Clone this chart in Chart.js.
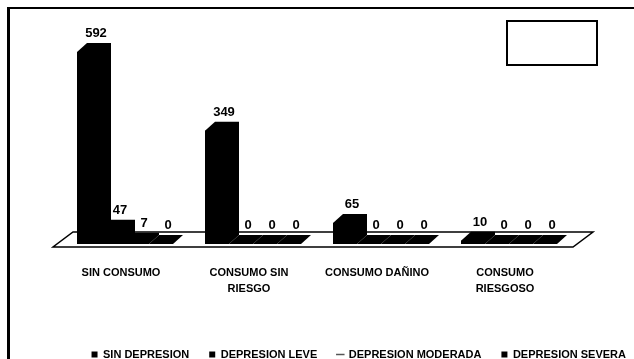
<!DOCTYPE html>
<html>
<head>
<meta charset="utf-8">
<script src="https://cdn.jsdelivr.net/npm/chart.js@4.4.1/dist/chart.umd.min.js"></script>
<style>
  html, body { margin: 0; padding: 0; background: #fff; }
  #wrap { position: relative; width: 634px; height: 359px; overflow: hidden; }
  #frame { position: absolute; left: 7px; top: 7px; width: 700px; height: 400px;
           border-left: 3px solid #000; border-top: 2px solid #000; }
  #emptyBox { position: absolute; left: 506px; top: 20px; width: 88px; height: 42px; border: 2px solid #000; }
  #chartBox { position: absolute; left: 0; top: 0; width: 634px; height: 359px; }
</style>
</head>
<body>
<div id="wrap">
  <div id="frame"></div>
  <div id="chartBox"><canvas id="consumoChart"></canvas></div>
  <div id="emptyBox"></div>
</div>
<script>
  const categories = [['SIN CONSUMO'], ['CONSUMO SIN', 'RIESGO'], ['CONSUMO DAÑINO'], ['CONSUMO', 'RIESGOSO']];
  const seriesNames = ['SIN DEPRESION', 'DEPRESION LEVE', 'DEPRESION MODERADA', 'DEPRESION SEVERA'];
  const sinDepresion = [592, 349, 65, 10];
  const depresionLeve = [47, 0, 0, 0];
  const depresionModerada = [7, 0, 0, 0];
  const depresionSevera = [0, 0, 0, 0];

  const DEPTH_X = 10;
  const DEPTH_Y = 9;
  const FONT = '"Liberation Sans", Arial, sans-serif';

  // floor plane under the bars + fake 3d faces and the value labels
  const columns3d = {
    id: 'columns3d',
    beforeDatasetsDraw(chart) {
      const { ctx, chartArea } = chart;
      const base = chart.scales.y.getPixelForValue(0);
      ctx.save();
      ctx.beginPath();
      ctx.moveTo(chartArea.left - 8, base + 3);
      ctx.lineTo(chartArea.right, base + 3);
      ctx.lineTo(chartArea.right + 20, base - 12);
      ctx.lineTo(chartArea.left + 12, base - 12);
      ctx.closePath();
      ctx.fillStyle = '#fff';
      ctx.fill();
      ctx.lineWidth = 1.5;
      ctx.strokeStyle = '#000';
      ctx.stroke();
      ctx.restore();
    },
    afterDatasetsDraw(chart) {
      const ctx = chart.ctx;
      const bars = [];
      chart.data.datasets.forEach((ds, i) => {
        chart.getDatasetMeta(i).data.forEach((bar, j) => {
          const p = bar.getProps(['x', 'y', 'base', 'width'], true);
          bars.push({ ...p, value: ds.data[j] });
        });
      });

      ctx.save();
      ctx.fillStyle = '#000';
      bars.forEach(b => {
        const l = b.x - b.width / 2;
        const r = b.x + b.width / 2;
        ctx.beginPath();
        ctx.moveTo(l, b.base);
        ctx.lineTo(l, b.y);
        ctx.lineTo(l + DEPTH_X, b.y - DEPTH_Y);
        ctx.lineTo(r + DEPTH_X, b.y - DEPTH_Y);
        ctx.lineTo(r + DEPTH_X, b.base - DEPTH_Y);
        ctx.lineTo(r, b.base);
        ctx.closePath();
        ctx.fill();
      });

      ctx.font = 'bold 13px ' + FONT;
      ctx.textAlign = 'center';
      ctx.textBaseline = 'bottom';
      bars.forEach(b => {
        ctx.fillText(String(b.value), b.x + DEPTH_X / 2 + 2, b.y - DEPTH_Y - 3);
      });
      ctx.restore();
    }
  };

  const legendMarks = ['rect', 'rect', 'line', 'rect'];

  const datasets = [sinDepresion, depresionLeve, depresionModerada, depresionSevera].map((data, i) => ({
    label: seriesNames[i],
    data: data,
    backgroundColor: '#000',
    borderWidth: 0,
    pointStyle: legendMarks[i],
    categoryPercentage: 0.75,
    barPercentage: 1.0
  }));

  Chart.defaults.color = '#000';
  Chart.defaults.font.family = FONT;

  new Chart(document.getElementById('consumoChart'), {
    type: 'bar',
    data: { labels: categories, datasets: datasets },
    options: {
      responsive: true,
      maintainAspectRatio: false,
      animation: false,
      layout: { padding: { top: 17, bottom: -11, left: 0, right: -12 } },
      scales: {
        x: {
          grid: { display: false, drawTicks: false },
          border: { display: false },
          ticks: {
            font: { size: 11, weight: 'bold', lineHeight: 1.45 },
            padding: 21,
            labelOffset: -4,
            maxRotation: 0,
            autoSkip: false
          },
          afterFit: s => { s.height = 85; }
        },
        y: {
          min: 0,
          max: 700,
          grid: { display: false, drawTicks: false },
          border: { display: false },
          ticks: { display: false },
          afterFit: s => { s.width = 61; }
        },
        yRight: {
          position: 'right',
          min: 0,
          max: 700,
          grid: { display: false, drawTicks: false },
          border: { display: false },
          ticks: { display: false },
          afterFit: s => { s.width = 73; }
        }
      },
      plugins: {
        tooltip: { enabled: false },
        legend: {
          position: 'bottom',
          align: 'end',
          labels: {
            usePointStyle: true,
            boxWidth: 6,
            boxHeight: 6,
            padding: 20,
            font: { size: 11, weight: 'bold' },
            generateLabels(chart) {
              const items = Chart.defaults.plugins.legend.labels.generateLabels(chart);
              items.forEach((it, i) => {
                it.pointStyle = legendMarks[i];
                it.fillStyle = '#000';
                it.strokeStyle = legendMarks[i] === 'line' ? '#555' : '#000';
                it.lineWidth = legendMarks[i] === 'line' ? 1.5 : 0;
              });
              return items;
            }
          }
        }
      }
    },
    plugins: [columns3d]
  });
</script>
</body>
</html>
